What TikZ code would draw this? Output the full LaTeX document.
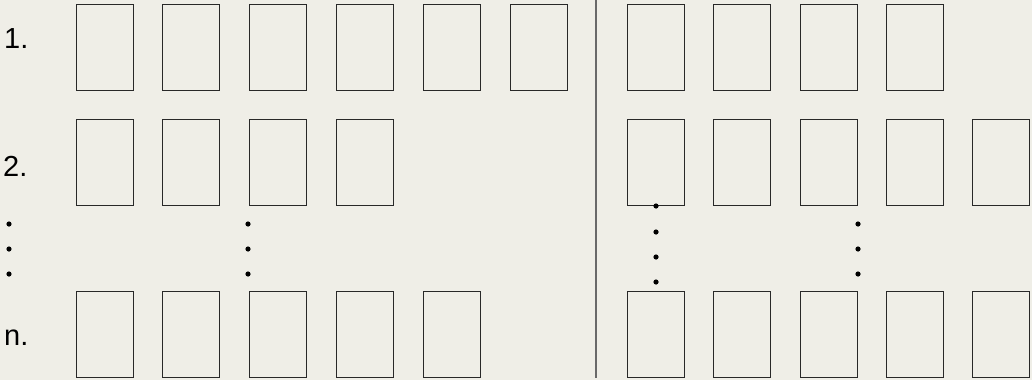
\documentclass[tikz,border=0pt]{standalone}
\usepackage{fontspec}
\setmainfont{Liberation Sans}
\definecolor{paper}{RGB}{239,238,231}
\definecolor{boxline}{RGB}{40,40,40}
\definecolor{divline}{RGB}{105,105,105}
\tikzset{
  card/.style={draw=boxline, line width=1pt, minimum width=57pt, minimum height=86pt, inner sep=0pt},
  rowlabel/.style={anchor=base west, inner sep=0pt, font=\fontsize{29}{29}\selectfont},
}
\begin{document}
\begin{tikzpicture}[x=1pt, y=-1pt]
  % ==== DEFINITIONS ====
  \def\leftX{104.5}  % centre of first card, left half
  \def\rightX{656}   % centre of first card, right half
  \def\gapL{86.8}    % card pitch, left half
  \def\gapR{86.3}    % card pitch, right half
  \def\dotR{2.6}     % dot radius

  % ==== BACKGROUND ====
  \fill[paper] (0,0) rectangle (1032,380);
  \useasboundingbox (0,0) rectangle (1032,380);

  % ==== DIVIDER ====
  \coordinate (divtop) at (596,0);
  \coordinate (divbot) at (596,378);
  \draw[divline, line width=1.3pt] (divtop) -- (divbot);

  % ==== ROW 1 ====
  \node[rowlabel] (lab1) at (4,48) {1.};
  \foreach \i in {0,...,5}
    \node[card] (ra\i) at ({\leftX+\gapL*\i},47) {};
  \foreach \i in {0,...,3}
    \node[card] (rb\i) at ({\rightX+\gapR*\i},47) {};

  % ==== ROW 2 ====
  \node[rowlabel] (lab2) at (3,176) {2.};
  \foreach \i in {0,...,3}
    \node[card] (sa\i) at ({\leftX+\gapL*\i},162.5) {};
  \foreach \i in {0,...,4}
    \node[card] (sb\i) at ({\rightX+\gapR*\i},162.5) {};

  % ==== DOTS ====
  \foreach \y in {224,249,274} {
    \fill (9,\y) circle(\dotR);
    \fill (248,\y) circle(\dotR);
    \fill (858,\y) circle(\dotR);
  }
  \foreach \y in {206,232,257,282}
    \fill (656,\y) circle(\dotR);

  % ==== ROW n ====
  \node[rowlabel] (labn) at (4,345) {n.};
  \foreach \i in {0,...,4}
    \node[card] (na\i) at ({\leftX+\gapL*\i},334.5) {};
  \foreach \i in {0,...,4}
    \node[card] (nb\i) at ({\rightX+\gapR*\i},334.5) {};
\end{tikzpicture}
\end{document}
